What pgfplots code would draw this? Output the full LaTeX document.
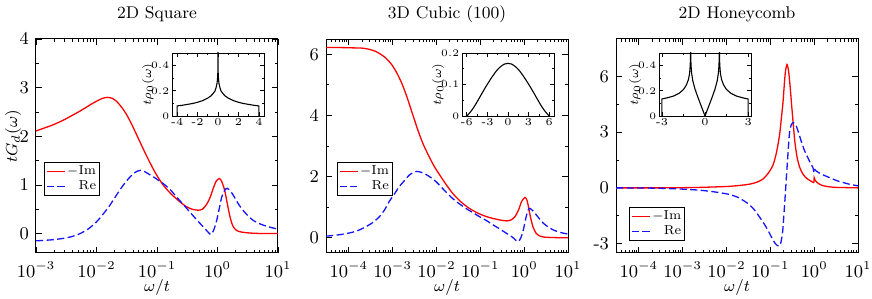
\documentclass[border=0pt]{standalone}
\usepackage{fontspec}
\usepackage{pgfplots}
\pgfplotsset{compat=1.18}
\definecolor{cred}{RGB}{255,0,0}
\definecolor{cblue}{RGB}{20,20,255}
\pgfplotsset{
  mainax/.style={
    scale only axis, width=121pt, height=107pt, anchor=south west,
    clip mode=individual,
    axis line style={black, line width=0.5pt},
    every tick/.style={black, line width=0.4pt},
    major tick length=3pt, minor tick length=1.6pt,
    tick label style={font=\fontsize{9}{10}\selectfont},
    xticklabel style={inner sep=0pt, yshift=-4.2pt},
    title style={font=\fontsize{8.5}{9}\selectfont, at={(axis description cs:0.5,1)}, anchor=base, yshift=4.3pt},
    legend style={font=\fontsize{6.5}{7.2}\selectfont, draw=black, line width=0.5pt,
      inner xsep=0.8pt, inner ysep=0.6pt, anchor=north west, nodes={inner sep=0.8pt}},
    legend cell align=right,
    legend image code/.code={\draw[#1] (0pt,0pt) -- (9pt,0pt);},
    after end axis/.append code={
      \node[anchor=base, inner sep=0pt, font=\fontsize{8.5}{9}\selectfont] at (axis description cs:0.5,-0.178) {$\omega/t$};
    },
  },
  inset/.style={
    scale only axis, anchor=south west, width=46pt, height=31.5pt,
    clip mode=individual,
    axis background/.style={fill=white},
    axis line style={black, line width=0.45pt},
    every tick/.style={black, line width=0.35pt},
    major tick length=2pt, minor tick length=1pt,
    tick label style={font=\fontsize{5.3}{6}\selectfont, inner sep=1.2pt},
    after end axis/.append code={
      \node[rotate=90, anchor=center, inner sep=0.5pt, font=\fontsize{6.3}{7}\selectfont] at (axis description cs:-0.26,0.5) {$t\rho_0(\omega)$};
    },
  },
  redl/.style={draw=cred, line width=0.65pt, smooth, tension=0.45},
  bluel/.style={draw=cblue, line width=0.65pt, dash pattern=on 3.6pt off 1.7pt, smooth, tension=0.45},
  blk/.style={draw=black, line width=0.55pt},
  mtA/.style={minor xtick={-2.699,-2.523,-2.398,-2.301,-2.222,-2.155,-2.097,-2.046,
    -1.699,-1.523,-1.398,-1.301,-1.222,-1.155,-1.097,-1.046,
    -0.699,-0.523,-0.398,-0.301,-0.222,-0.155,-0.097,-0.046,
    0.301,0.477,0.602,0.699,0.778,0.845,0.903,0.954}},
  mtB/.style={minor xtick={-4.398,-4.301,-4.222,-4.155,-4.097,-4.046,
    -3.699,-3.523,-3.398,-3.301,-3.222,-3.155,-3.097,-3.046,
    -2.699,-2.523,-2.398,-2.301,-2.222,-2.155,-2.097,-2.046,
    -1.699,-1.523,-1.398,-1.301,-1.222,-1.155,-1.097,-1.046,
    -0.699,-0.523,-0.398,-0.301,-0.222,-0.155,-0.097,-0.046,
    0.301,0.477,0.602,0.699,0.778,0.845,0.903,0.954}},
}
\begin{document}
\begin{tikzpicture}
\useasboundingbox (0,0) rectangle (436pt,149.5pt);
% ---------------- Panel 1: 2D Square
\begin{axis}[mainax, at={(18pt,23pt)},
  xmin=-3, xmax=1, xtick={-3,-2,-1,0,1},
  xticklabels={$10^{-3}$,$10^{-2}$,$10^{-1}$,$10^{0}$,$10^{1}$}, mtA,
  ymin=-0.4, ymax=4, ytick={0,1,2,3,4}, minor y tick num=1,
  title={2D Square},
  after end axis/.append code={
    \node[rotate=90, anchor=center, font=\fontsize{8.5}{9}\selectfont] at (axis description cs:-0.095,0.545) {$tG_d(\omega)$};
  },
  legend style={at={(0.033,0.425)}}]
\addplot[redl] coordinates {
(-3.00,2.11) (-2.75,2.22) (-2.55,2.33) (-2.27,2.52) (-2.10,2.65) (-2.00,2.72)
(-1.90,2.78) (-1.82,2.80) (-1.74,2.78) (-1.67,2.72) (-1.58,2.59) (-1.50,2.44)
(-1.42,2.25) (-1.34,2.04) (-1.25,1.80) (-1.17,1.59) (-1.08,1.37) (-1.00,1.19)
(-0.90,1.00) (-0.78,0.83) (-0.675,0.71) (-0.59,0.62) (-0.51,0.55) (-0.42,0.50)
(-0.32,0.48) (-0.25,0.50) (-0.18,0.60) (-0.12,0.75) (-0.07,0.93) (-0.02,1.08)
(0.03,1.13) (0.07,1.07) (0.12,0.88) (0.18,0.50) (0.22,0.28) (0.26,0.14)
(0.32,0.06) (0.40,0.03) (0.54,0.01) (0.75,0.00) (1.00,0.00)};
\addlegendentry{$-$Im}
\addplot[bluel] coordinates {
(-3.00,-0.15) (-2.75,-0.13) (-2.55,-0.10) (-2.40,-0.06) (-2.27,0.00) (-2.13,0.10)
(-2.00,0.24) (-1.89,0.40) (-1.78,0.58) (-1.67,0.79) (-1.56,0.99) (-1.47,1.13)
(-1.39,1.23) (-1.33,1.28) (-1.27,1.30) (-1.20,1.27) (-1.12,1.21) (-1.04,1.15)
(-0.96,1.08) (-0.90,1.03) (-0.78,0.90) (-0.675,0.75) (-0.56,0.59) (-0.455,0.44)
(-0.37,0.32) (-0.29,0.21) (-0.20,0.09) (-0.11,-0.02) (-0.06,0.08) (-0.013,0.27)
(0.03,0.52) (0.07,0.75) (0.12,0.89) (0.16,0.93) (0.21,0.88) (0.26,0.79)
(0.33,0.64) (0.40,0.51) (0.50,0.37) (0.59,0.27) (0.70,0.20) (0.81,0.15)
(0.90,0.12) (1.00,0.09)};
\addlegendentry{Re}
\end{axis}
\begin{axis}[inset, at={(86pt,91.5pt)},
  xmin=-4.5, xmax=4.5, xtick={-4,-2,0,2,4}, xticklabels={-4,-2,0,2,4}, minor x tick num=1,
  ymin=0, ymax=0.5, ytick={0,0.2,0.4}, minor y tick num=1]
\addplot[blk] coordinates {
(-4,0) (-4,0.080) (-3.5,0.085) (-3,0.092) (-2.5,0.099) (-2,0.109) (-1.5,0.122)
(-1,0.142) (-0.7,0.159) (-0.5,0.176) (-0.3,0.198) (-0.2,0.222) (-0.1,0.257)
(-0.05,0.292) (-0.02,0.339) (-0.01,0.374) (-0.004,0.420) (-0.001,0.49) (0,0.55)
(0.001,0.49) (0.004,0.420) (0.01,0.374) (0.02,0.339) (0.05,0.292) (0.1,0.257)
(0.2,0.222) (0.3,0.198) (0.5,0.176) (0.7,0.159) (1,0.142) (1.5,0.122) (2,0.109)
(2.5,0.099) (3,0.092) (3.5,0.085) (4,0.080) (4,0)};
\end{axis}
% ---------------- Panel 2: 3D Cubic (100)
\begin{axis}[mainax, at={(163pt,23pt)},
  xmin=-4.52, xmax=1, xtick={-4,-3,-2,-1,0,1},
  xticklabels={$10^{-4}$,$10^{-3}$,$10^{-2}$,$10^{-1}$,$10^{0}$,$10^{1}$}, mtB,
  ymin=-0.5, ymax=6.5, ytick={0,2,4,6}, minor y tick num=1,
  title={3D Cubic (100)},
  legend style={at={(0.045,0.425)}}]
\addplot[redl] coordinates {
(-4.52,6.22) (-4.20,6.22) (-3.90,6.21) (-3.68,6.20) (-3.50,6.15) (-3.38,6.09)
(-3.25,5.98) (-3.15,5.87) (-3.03,5.68) (-2.92,5.43) (-2.80,5.08) (-2.69,4.67)
(-2.54,4.02) (-2.42,3.50) (-2.30,3.05) (-2.17,2.66) (-2.05,2.33) (-1.93,2.06)
(-1.78,1.74) (-1.63,1.45) (-1.47,1.21) (-1.32,1.03) (-1.17,0.89) (-1.02,0.78)
(-0.86,0.69) (-0.71,0.63) (-0.55,0.58) (-0.40,0.55) (-0.30,0.58) (-0.21,0.69)
(-0.13,0.90) (-0.06,1.18) (0.016,1.32) (0.06,1.24) (0.09,1.07) (0.14,0.70)
(0.20,0.36) (0.27,0.15) (0.35,0.06) (0.45,0.02) (0.58,0.01) (0.80,0.00) (1.00,0.00)};
\addlegendentry{$-$Im}
\addplot[bluel] coordinates {
(-4.52,0.05) (-4.20,0.10) (-3.91,0.18) (-3.75,0.26) (-3.61,0.36) (-3.45,0.50)
(-3.30,0.69) (-3.18,0.92) (-3.08,1.18) (-2.96,1.43) (-2.85,1.67) (-2.73,1.87)
(-2.62,2.05) (-2.53,2.13) (-2.45,2.17) (-2.35,2.14) (-2.24,2.07) (-2.12,1.96)
(-2.00,1.82) (-1.82,1.55) (-1.63,1.28) (-1.47,1.10) (-1.32,0.95) (-1.17,0.82)
(-1.02,0.69) (-0.86,0.56) (-0.71,0.42) (-0.55,0.28) (-0.40,0.14) (-0.27,0.02)
(-0.14,-0.13) (-0.07,0.02) (-0.02,0.25) (0.02,0.52) (0.055,0.74) (0.09,0.90)
(0.13,0.96) (0.20,0.88) (0.28,0.74) (0.36,0.60) (0.44,0.47) (0.55,0.35)
(0.67,0.25) (0.83,0.17) (1.00,0.12)};
\addlegendentry{Re}
\end{axis}
\begin{axis}[inset, at={(231pt,91.5pt)},
  xmin=-6.7, xmax=6.7, xtick={-6,-3,0,3,6}, xticklabels={-6,-3,0,3,6}, minor x tick num=1,
  ymin=0, ymax=0.2, ytick={0,0.1,0.2}, minor y tick num=1]
\addplot[blk, smooth] coordinates {
(-6,0) (-5.5,0.012) (-5,0.027) (-4.5,0.045) (-4,0.064) (-3.5,0.083) (-3,0.101)
(-2.5,0.118) (-2,0.134) (-1.5,0.148) (-1,0.158) (-0.5,0.165) (0,0.167)
(0.5,0.165) (1,0.158) (1.5,0.148) (2,0.134) (2.5,0.118) (3,0.101) (3.5,0.083)
(4,0.064) (4.5,0.045) (5,0.027) (5.5,0.012) (6,0)};
\end{axis}
% ---------------- Panel 3: 2D Honeycomb
\begin{axis}[mainax, at={(308pt,23pt)},
  xmin=-4.52, xmax=1, xtick={-4,-3,-2,-1,0,1},
  xticklabels={$10^{-4}$,$10^{-3}$,$10^{-2}$,$10^{-1}$,$10^{0}$,$10^{1}$}, mtB,
  ymin=-3.5, ymax=8, ytick={-3,0,3,6}, yticklabels={-3,0,3,6}, minor y tick num=1,
  title={2D Honeycomb},
  legend style={at={(0.054,0.215)}}]
\addplot[redl] coordinates {
(-4.52,0.00) (-3.50,0.00) (-3.00,0.01) (-2.70,0.02) (-2.40,0.04) (-2.15,0.06)
(-1.94,0.08) (-1.70,0.13) (-1.47,0.20) (-1.30,0.31) (-1.17,0.47) (-1.05,0.78)
(-0.94,1.22) (-0.86,1.90) (-0.79,2.83) (-0.75,3.70) (-0.71,4.62) (-0.68,5.60)
(-0.655,6.25) (-0.62,6.63) (-0.585,6.30) (-0.55,5.50) (-0.52,4.62) (-0.48,3.50)
(-0.44,2.47) (-0.39,1.65) (-0.33,1.10) (-0.25,0.72) (-0.17,0.51) (-0.08,0.37)
(-0.01,0.29) (0.00,0.55) (0.02,0.42) (0.06,0.30) (0.12,0.20) (0.20,0.12)
(0.30,0.07) (0.45,0.03) (0.60,0.02) (0.80,0.01) (1.00,0.00)};
\addlegendentry{$-$Im}
\addplot[bluel] coordinates {
(-4.52,0.00) (-3.80,-0.01) (-3.16,-0.05) (-2.70,-0.11) (-2.39,-0.18) (-2.15,-0.26)
(-1.94,-0.35) (-1.75,-0.50) (-1.60,-0.70) (-1.47,-0.92) (-1.35,-1.22) (-1.25,-1.55)
(-1.15,-1.90) (-1.06,-2.25) (-0.98,-2.62) (-0.90,-2.95) (-0.84,-3.10) (-0.80,-3.13)
(-0.76,-2.95) (-0.72,-2.37) (-0.695,-1.60) (-0.67,-0.75) (-0.645,0.15) (-0.62,1.04)
(-0.59,2.10) (-0.56,3.01) (-0.52,3.40) (-0.48,3.51) (-0.44,3.45) (-0.40,3.28)
(-0.35,2.92) (-0.29,2.47) (-0.22,2.00) (-0.15,1.65) (-0.08,1.30) (-0.03,1.10)
(-0.005,0.85) (0.00,1.02) (0.04,0.92) (0.10,0.82) (0.20,0.70) (0.30,0.60)
(0.44,0.46) (0.55,0.36) (0.67,0.28) (0.83,0.18) (1.00,0.11)};
\addlegendentry{Re}
\end{axis}
\begin{axis}[inset, at={(329.5pt,91.5pt)},
  xmin=-3.2, xmax=3.2, xtick={-3,0,3}, xticklabels={-3,0,3}, minor x tick num=1,
  ymin=0, ymax=0.5, ytick={0,0.2,0.4}, minor y tick num=1]
\addplot[blk] coordinates {
(-3,0) (-3,0.135) (-2.6,0.145) (-2.2,0.158) (-1.8,0.18) (-1.5,0.21) (-1.3,0.245)
(-1.15,0.29) (-1.07,0.34) (-1.03,0.40) (-1.01,0.46) (-1.0,0.55)
(-0.99,0.46) (-0.97,0.40) (-0.93,0.34) (-0.85,0.28) (-0.7,0.215) (-0.5,0.15)
(-0.3,0.09) (-0.15,0.045) (0,0) (0.15,0.045) (0.3,0.09) (0.5,0.15) (0.7,0.215)
(0.85,0.28) (0.93,0.34) (0.97,0.40) (0.99,0.46) (1.0,0.55) (1.01,0.46)
(1.03,0.40) (1.07,0.34) (1.15,0.29) (1.3,0.245) (1.5,0.21) (1.8,0.18)
(2.2,0.158) (2.6,0.145) (3,0.135) (3,0)};
\end{axis}
\end{tikzpicture}
\end{document}
